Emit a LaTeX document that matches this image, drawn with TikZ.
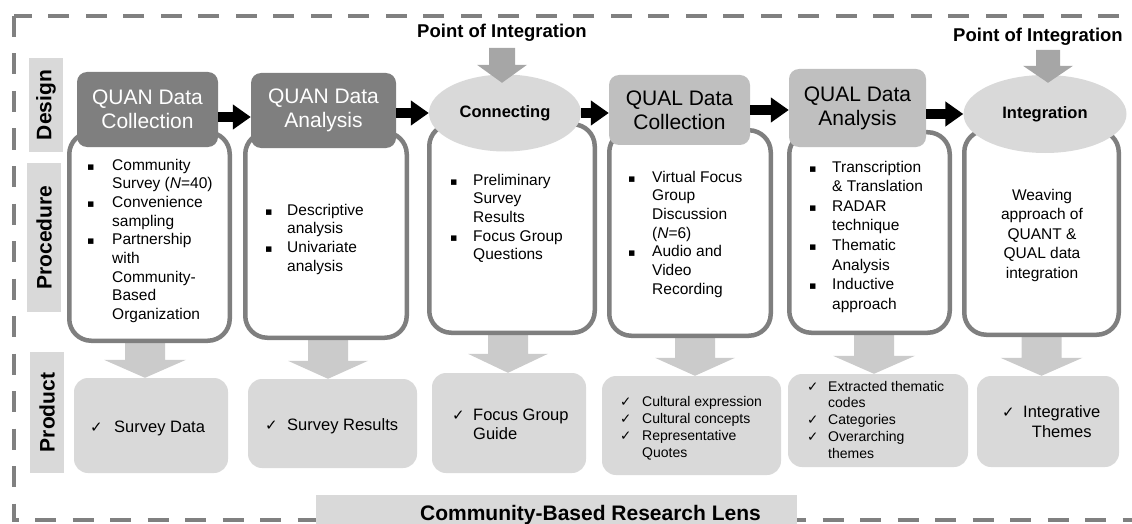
\documentclass[tikz,border=0pt]{standalone}
\usepackage{fontspec}
\setmainfont{Liberation Sans}
\newfontfamily\symfont{DejaVu Sans}
\usetikzlibrary{shapes.geometric,arrows.meta,calc,backgrounds}

\definecolor{quan}{HTML}{7F7F7F}
\definecolor{qual}{HTML}{BFBFBF}
\definecolor{soft}{HTML}{D9D9D9}
\definecolor{rim}{HTML}{7F7F7F}
\definecolor{downgray}{HTML}{CBCBCB}
\definecolor{topgray}{HTML}{A6A6A6}
\definecolor{framegray}{HTML}{808080}

% list markers
\newcommand\bul[1]{\makebox[#1][l]{\symfont\fontsize{11}{11}\selectfont ▪}}
\newcommand\ck[2]{\makebox[#1][l]{\symfont\fontsize{#2}{#2}\selectfont ✓}}

\begin{document}
\begin{tikzpicture}[x=1pt,y=-1pt,
  borderline/.style={draw=framegray, line width=4.5pt, dash pattern=on 21pt off 16.5pt},
  sidelabel/.style={fill=soft, rotate=90, inner sep=0pt, minimum height=34pt,
    font=\bfseries\fontsize{21}{24}\selectfont},
  stagebox/.style={draw=rim, line width=4.5pt, fill=white, rounded corners=22pt, inner sep=0pt},
  headdark/.style={fill=quan, text=white, rounded corners=10pt, inner sep=0pt, align=center,
    font=\fontsize{21}{24}\selectfont},
  headlight/.style={headdark, fill=qual, text=black},
  joint/.style={ellipse, fill=soft, inner sep=0pt, font=\bfseries\fontsize{16.5}{19}\selectfont},
  yieldbox/.style={fill=soft, rounded corners=14pt, inner sep=0pt},
  listtext/.style={inner sep=0pt, anchor=base west, font=\fontsize{15.5}{18.7}\selectfont},
  poi/.style={inner sep=0pt, font=\bfseries\fontsize{18.5}{22}\selectfont},
  flow/.style={line width=10pt, -{Triangle[length=18pt,width=24pt]}},
  blockdown/.style n args={3}{to path={let \p1=(\tikztostart), \p2=(\tikztotarget) in
    (\x1-#1/2,\y1) -- (\x1+#1/2,\y1) -- (\x1+#1/2,\y2+#3) -- (\x1+#2/2,\y2+#3)
    -- (\x1,\y2) -- (\x1-#2/2,\y2+#3) -- (\x1-#1/2,\y2+#3) -- cycle}},
  lensband/.style={fill=soft, inner sep=0pt, minimum width=481pt, minimum height=40pt,
    font=\bfseries\fontsize{21}{24}\selectfont}
]
\useasboundingbox (0,0) rectangle (1132,524);

% outer dashed frame
\draw[borderline] (14,16) rectangle (1150,520);

% row labels
\node[sidelabel, minimum width=94pt] (lblD) at (46,105) {Design};
\node[sidelabel, minimum width=149pt] (lblP) at (44,237.5) {Procedure};
\node[sidelabel, minimum width=121pt] (lblR) at (47,412.5) {Product};

% procedure boxes
\node[stagebox, minimum width=160.5pt, minimum height=208.5pt] (p1) at (149.5,236.5) {};
\node[stagebox, minimum width=161.5pt, minimum height=205.5pt] (p2) at (326,235) {};
\node[stagebox, minimum width=165.5pt, minimum height=208.5pt] (p3) at (512,228.5) {};
\node[stagebox, minimum width=161.5pt, minimum height=205.5pt] (p4) at (690,233) {};
\node[stagebox, minimum width=160.5pt, minimum height=200.5pt] (p5) at (869.5,232.5) {};
\node[stagebox, minimum width=154.5pt, minimum height=204.5pt] (p6) at (1041.5,232.5) {};

% design stages
\node[headdark, minimum width=141pt, minimum height=75pt] (h1) at (147.5,109.5) {QUAN Data\\Collection};
\node[headdark, minimum width=145pt, minimum height=75pt] (h2) at (323.5,110.5) {QUAN Data\\Analysis};
\node[joint, minimum width=152pt, minimum height=77pt] (c3) at (505,113) {Connecting};
\node[headlight, minimum width=141pt, minimum height=70pt] (h4) at (679.5,110) {QUAL Data\\Collection};
\node[headlight, minimum width=137pt, minimum height=78pt] (h5) at (857.5,108) {QUAL Data\\Analysis};
\node[joint, minimum width=163pt, minimum height=78pt] (c6) at (1045,114) {Integration};

% products
\node[yieldbox, minimum width=154pt, minimum height=95pt] (r1) at (151,425.5) {};
\node[yieldbox, minimum width=169pt, minimum height=89pt] (r2) at (332.5,423.5) {};
\node[yieldbox, minimum width=154pt, minimum height=100pt] (r3) at (509,423) {};
\node[yieldbox, minimum width=179pt, minimum height=99pt] (r4) at (691.5,425.5) {};
\node[yieldbox, minimum width=180pt, minimum height=93pt] (r5) at (878,420.5) {};
\node[yieldbox, minimum width=142pt, minimum height=91pt] (r6) at (1048,421.5) {};

% arrows from procedure to product, behind the boxes
\begin{pgfonlayer}{background}
\path[fill=downgray] ([xshift=-4.5pt]p1.south) to[blockdown={40pt}{82pt}{18pt}] ([xshift=-4.5pt]p1.south |- r1.north);
\path[fill=downgray] ([xshift=2pt]p2.south) to[blockdown={40pt}{80pt}{18pt}] ([xshift=2pt]p2.south |- r2.north);
\path[fill=downgray] ([xshift=-4pt]p3.south) to[blockdown={40pt}{80pt}{19pt}] ([xshift=-4pt]p3.south |- r3.north);
\path[fill=downgray] ([xshift=5pt]p4.south) to[blockdown={40pt}{80pt}{18pt}] ([xshift=5pt]p4.south |- r4.north);
\path[fill=downgray] ([xshift=4.5pt]p5.south) to[blockdown={40pt}{82pt}{18pt}] ([xshift=4.5pt]p5.south |- r5.north);
\path[fill=downgray] (p6.south) to[blockdown={40pt}{82pt}{18pt}] (p6.south |- r6.north);
\end{pgfonlayer}

% sequence arrows
\draw[flow] (h1.east |- 0,117) -- (h2.west |- 0,117);
\draw[flow] (h2.east |- c3.west) -- (c3.west);
\draw[flow] (c3.east) -- (h4.west |- c3.east);
\draw[flow] (h4.east |- 0,110) -- (h5.west |- 0,110);
\draw[flow] (h5.east |- c6.west) -- (c6.west);

% points of integration
\node[poi] (poi1) at (502,33) {Point of Integration};
\node[poi] (poi2) at (1038,37) {Point of Integration};
\path[fill=topgray] ($(c3.north)+(-3,-26.5)$) to[blockdown={26pt}{50pt}{18pt}] ($(c3.north)+(-3,8.5)$);
\path[fill=topgray] ($(c6.north)+(3,-25)$) to[blockdown={24pt}{50pt}{17pt}] ($(c6.north)+(3,8)$);

% procedure texts
\node[listtext] (t1) at (87,170) {\begin{tabular}[t]{@{}l@{}l@{}}
\bul{25pt} & Community\\
 & Survey (\textit{N}=40)\\
\bul{25pt} & Convenience\\
 & sampling\\
\bul{25pt} & Partnership\\
 & with\\
 & Community-\\
 & Based\\
 & Organization
\end{tabular}};
\node[listtext] (t2) at (265,215) {\begin{tabular}[t]{@{}l@{}l@{}}
\bul{22pt} & Descriptive\\
 & analysis\\
\bul{22pt} & Univariate\\
 & analysis
\end{tabular}};
\node[listtext] (t3) at (450,185) {\begin{tabular}[t]{@{}l@{}l@{}}
\bul{23pt} & Preliminary\\
 & Survey\\
 & Results\\
\bul{23pt} & Focus Group\\
 & Questions
\end{tabular}};
\node[listtext] (t4) at (628,182) {\begin{tabular}[t]{@{}l@{}l@{}}
\bul{24pt} & Virtual Focus\\
 & Group\\
 & Discussion\\
 & (\textit{N}=6)\\
\bul{24pt} & Audio and\\
 & Video\\
 & Recording
\end{tabular}};
\node[listtext, font=\fontsize{15.5}{19.6}\selectfont] (t5) at (809,172) {\begin{tabular}[t]{@{}l@{}l@{}}
\bul{23pt} & Transcription\\
 & \& Translation\\
\bul{23pt} & RADAR\\
 & technique\\
\bul{23pt} & Thematic\\
 & Analysis\\
\bul{23pt} & Inductive\\
 & approach
\end{tabular}};
\node[listtext, anchor=base, font=\fontsize{15.5}{19.5}\selectfont] (t6) at (1042,200) {\begin{tabular}[t]{@{}c@{}}
Weaving\\
approach of\\
QUANT \&\\
QUAL data\\
integration
\end{tabular}};

% product texts
\node[listtext, font=\fontsize{16.5}{19}\selectfont] (u1) at (90,432) {\begin{tabular}[t]{@{}l@{}l@{}}
\ck{24pt}{15} & Survey Data
\end{tabular}};
\node[listtext, font=\fontsize{16.5}{19}\selectfont] (u2) at (265,430) {\begin{tabular}[t]{@{}l@{}l@{}}
\ck{22pt}{15} & Survey Results
\end{tabular}};
\node[listtext, font=\fontsize{16.5}{19}\selectfont] (u3) at (452,420) {\begin{tabular}[t]{@{}l@{}l@{}}
\ck{21pt}{15} & Focus Group\\
 & Guide
\end{tabular}};
\node[listtext, font=\fontsize{14}{17}\selectfont] (u4) at (620,406) {\begin{tabular}[t]{@{}l@{}l@{}}
\ck{22pt}{13.5} & Cultural expression\\
\ck{22pt}{13.5} & Cultural concepts\\
\ck{22pt}{13.5} & Representative\\
 & Quotes
\end{tabular}};
\node[listtext, font=\fontsize{14}{16.8}\selectfont] (u5) at (807,391) {\begin{tabular}[t]{@{}l@{}l@{}}
\ck{21pt}{13.5} & Extracted thematic\\
 & codes\\
\ck{21pt}{13.5} & Categories\\
\ck{21pt}{13.5} & Overarching\\
 & themes
\end{tabular}};
\node[listtext, font=\fontsize{16.5}{20}\selectfont] (u6) at (1002,417) {\begin{tabular}[t]{@{}l@{}c@{}}
\ck{21pt}{15} & Integrative\\
 & Themes
\end{tabular}};

% research lens band
\node[lensband] (lens) at (556.5,515) {\hspace*{68pt}Community-Based Research Lens};
\end{tikzpicture}
\end{document}
